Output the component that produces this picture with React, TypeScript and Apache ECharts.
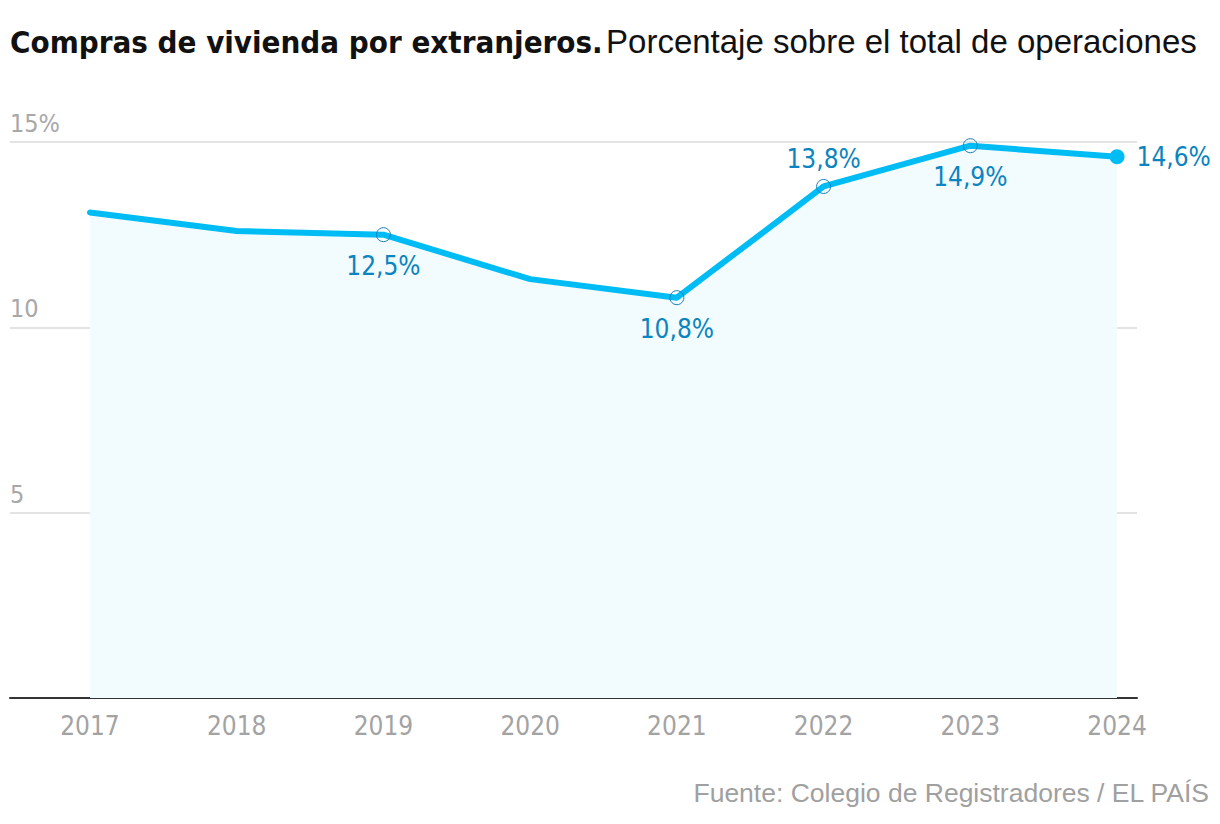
import React, { useEffect, useRef } from "react";
import * as echarts from "echarts";

const years = [2017, 2018, 2019, 2020, 2021, 2022, 2023, 2024];
const values = [13.1, 12.6, 12.5, 11.3, 10.8, 13.8, 14.9, 14.6];
const yTicks = [0, 5, 10, 15];

const TITLE_BOLD = "Compras de vivienda por extranjeros.";
const TITLE_REG = "Porcentaje sobre el total de operaciones";
const SOURCE = "Fuente: Colegio de Registradores / EL PAÍS";

const NARROW = "'DejaVu Sans Condensed', 'Liberation Sans Narrow', sans-serif";
const SANS = "'Liberation Sans', Arial, sans-serif";

const LINE = "#00bcf5";
const LABEL = "#0b84c0";

export default function App() {
  const ref = useRef<HTMLDivElement>(null);
  useEffect(() => {
    if (!ref.current) return;
    const chart = echarts.init(ref.current, undefined, { renderer: "svg" });

    const labelPos: Record<number, string> = {
      2019: "bottom",
      2021: "bottom",
      2022: "top",
      2023: "bottom",
      2024: "right",
    };

    const data = years.map((yr, i) => {
      const pos = labelPos[yr];
      const last = i === years.length - 1;
      const item: any = { value: [yr, values[i]] };
      if (pos) {
        item.symbol = "circle";
        item.symbolSize = last ? 15 : 14;
        item.itemStyle = last
          ? { color: LINE, borderWidth: 0 }
          : { color: "rgba(255,255,255,0)", borderColor: "#1a80b8", borderWidth: 1 };
        item.label = {
          show: true,
          position: pos,
          distance: pos === "right" ? 12 : pos === "top" ? 7 : 11,
          formatter: String(values[i]).replace(".", ",") + "%",
          color: LABEL,
          fontSize: 26,
          fontFamily: NARROW,
        };
      } else {
        item.symbol = "none";
      }
      return item;
    });

    chart.setOption({
      animation: false,
      backgroundColor: "#ffffff",
      grid: { left: 10, right: 83, top: 142, bottom: 126 },
      xAxis: {
        type: "value",
        min: 2016.455,
        max: 2024.136,
        axisLine: { show: true, lineStyle: { color: "#333333", width: 2 } },
        axisTick: { show: false },
        splitLine: { show: false },
        axisLabel: {
          customValues: years,
          formatter: (v: number) => String(v),
          margin: 15,
          fontSize: 26,
          color: "#a3a3a3",
          fontFamily: NARROW,
        },
      },
      yAxis: {
        type: "value",
        min: 0,
        max: 15,
        interval: 5,
        axisLine: { show: false },
        axisTick: { show: false },
        splitLine: { lineStyle: { color: "#e3e3e3", width: 2 } },
        axisLabel: {
          inside: true,
          margin: 0,
          verticalAlign: "bottom",
          padding: [0, 0, 6, 0],
          fontSize: 25,
          color: "#a8a8a8",
          fontFamily: NARROW,
          formatter: (v: number) =>
            v === yTicks[0] ? "" : v === yTicks[yTicks.length - 1] ? v + "%" : String(v),
        },
      },
      series: [
        {
          type: "line",
          data,
          lineStyle: { color: LINE, width: 6, cap: "round", join: "round" },
          itemStyle: { color: LINE },
          areaStyle: { color: "#f2fbfe", opacity: 1 },
          z: 3,
        },
      ],
      graphic: [
        {
          type: "text",
          left: 10,
          top: 25,
          style: {
            text: `{b|${TITLE_BOLD}} {r|${TITLE_REG}}`,
            rich: {
              b: { fontFamily: NARROW, fontWeight: "bold", fontSize: 31, fill: "#111111" },
              r: { fontFamily: SANS, fontSize: 33, fill: "#111111" },
            },
          },
        },
        {
          type: "text",
          right: 10,
          top: 779,
          style: {
            text: SOURCE,
            fontFamily: SANS,
            fontSize: 26.5,
            fill: "#a0a0a0",
          },
        },
      ],
    });
    return () => chart.dispose();
  }, []);
  return (
    <div
      ref={ref}
      style={{ position: "absolute", left: 0, top: 0, width: 1220, height: 824 }}
    />
  );
}
